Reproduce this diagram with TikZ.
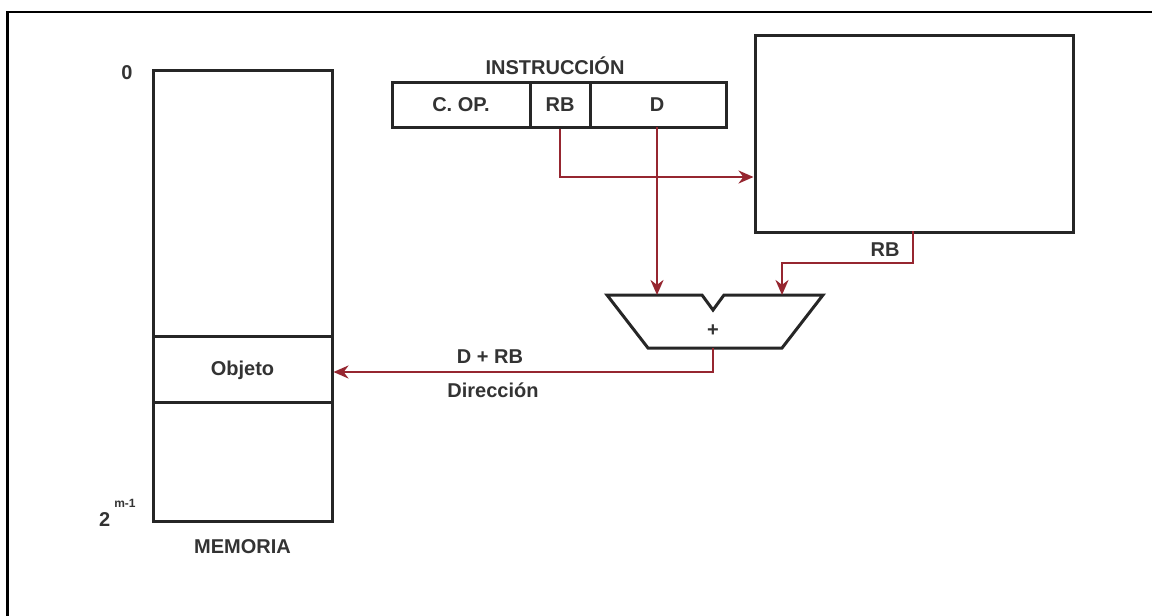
\documentclass[tikz,border=0pt]{standalone}
\usepackage{fontspec}
\setmainfont{Liberation Sans}
\usetikzlibrary{arrows.meta}
\definecolor{wire}{RGB}{150,38,48}
\tikzset{
  box/.style={draw=black!85, line width=3pt},
  lbl/.style={font=\bfseries\fontsize{20}{23}\selectfont, text=black!80, inner sep=0pt},
  wirearrow/.style={draw=wire, line width=2.4pt, -{Stealth[length=15pt,width=13pt]}},
}
\begin{document}
\begin{tikzpicture}[x=1pt,y=-1pt]
\useasboundingbox (0,0) rectangle (1152,616);
\fill[white] (0,0) rectangle (1152,616);
% outer frame (top and left only visible)
\draw[line width=2.6pt] (7.5,616) -- (7.5,12) -- (1152,12);

% memory
\node[box, minimum width=179pt, minimum height=451pt, inner sep=0pt] (mem) at (242.5,295.5) {};
\draw[box] (153,336) -- (332,336);
\draw[box] (153,402) -- (332,402);
\node[lbl] (obj) at (242.5,370) {Objeto};
\node[lbl] (zero) at (127,73) {0};
\node[lbl, anchor=south west] (two) at (99,527) {2\hspace{4pt}\raisebox{19pt}{\fontsize{12}{13}\selectfont m-1}};
\node[lbl] (memlbl) at (242.5,547) {MEMORIA};

% instruction
\node[box, minimum width=334pt, minimum height=45pt, inner sep=0pt] (instr) at (559,104.5) {};
\draw[box] (530,82) -- (530,127);
\draw[box] (590,82) -- (590,127);
\node[lbl] (cop) at (461,104.5) {C. OP.};
\node[lbl] (rb) at (560,104.5) {RB};
\node[lbl] (d) at (657,104.5) {D};
\node[lbl] (instrlbl) at (555,66) {INSTRUCCIÓN};

% register bank
\node[box, minimum width=318pt, minimum height=197pt, inner sep=0pt] (regs) at (914,133.5) {};

% adder
\draw[box, line join=miter] (607,295) -- (702,295) -- (713,310) -- (724,295) -- (823,295) -- (782,348) -- (648,348) -- cycle;
\coordinate (addtopL) at (657,295);
\coordinate (addtopR) at (782,295);
\coordinate (addout) at (713,348);
\node[lbl] (plus) at (713,331) {+};

% wires
\draw[wirearrow] (rb.center |- instr.south) -- (560,177) -- (regs.west |- 0,177);
\draw[wirearrow] (657,127) -- (addtopL);
\draw[wirearrow] (913,231) -- (913,263) -- (782,263) -- (addtopR);
\node[lbl] (rblbl) at (885,250) {RB};
\draw[wirearrow] (addout) -- (713,372) -- (mem.east |- 0,372);
\node[lbl] (sum) at (490,357) {D + RB};
\node[lbl] (dir) at (493,390) {Dirección};
\end{tikzpicture}
\end{document}
